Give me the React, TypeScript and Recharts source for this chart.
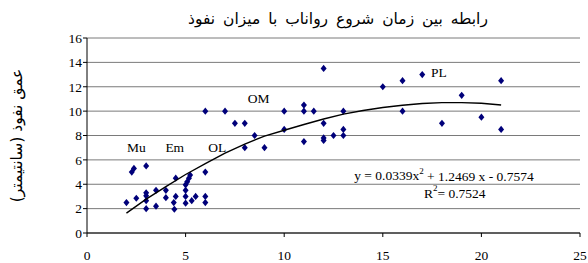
import { CartesianGrid, ComposedChart, ReferenceDot, Scatter, XAxis, YAxis } from "recharts";

const obsX = [
  2, 2.27, 2.38, 2.5, 3, 3, 3, 3, 3, 3.5, 3.5, 4, 4, 4.4, 4.43, 4.5, 4.5,
  5, 5, 5, 5, 5.08, 5.17, 5.23, 5.31, 5.51, 6, 6, 6, 6,
  7, 7.5, 8, 8, 8.5, 9, 10, 10, 11, 11, 11, 11.5, 12, 12, 12, 12, 12.5, 13, 13, 13,
  15, 16, 16, 17, 18, 19, 20, 21, 21,
];
const obsY = [
  2.5, 5, 5.3, 2.85, 5.5, 3.3, 3.05, 2.65, 2, 3.5, 2.2, 3.5, 2.9, 2.5, 1.95, 4.5, 3,
  2.45, 3, 3.5, 3.95, 4.2, 4.5, 4.75, 2.65, 3, 10, 5, 3, 2.5,
  10, 9, 9, 7, 8, 7, 10, 8.5, 10.5, 10, 7.5, 10, 13.5, 9, 7.8, 7.6, 8, 10, 8.5, 8,
  12, 12.5, 10, 13, 9, 11.3, 9.5, 12.5, 8.5,
];

// Polynomial trend line.
const trendX = [2, 3, 4, 5, 6, 7, 8, 9, 10, 11, 12, 13, 14, 15, 16, 17, 18, 19, 20, 21];
const trendY = [1.63, 2.78, 3.8, 4.8, 5.7, 6.55, 7.3, 7.95, 8.43, 8.9, 9.35, 9.75, 10.05, 10.3, 10.48, 10.62, 10.7, 10.7, 10.65, 10.5];

const xTicks = [0, 5, 10, 15, 20, 25];
const yTicks = [0, 2, 4, 6, 8, 10, 12, 14, 16];

const groupLabels = ["Mu", "Em", "OL", "OM", "PL"];
const groupLabelX = [2.5, 4.45, 6.6, 8.7, 17.85];
const groupLabelY = [7.05, 7.05, 7.05, 11, 13.15];

const title = "رابطه بین  زمان شروع رواناب با میزان نفوذ";
const yTitle = "عمق نفوذ (سانتیمتر)";

const points = obsX.map((x, i) => ({ x, y: obsY[i] }));
const trend = trendX.map((x, i) => ({ x, y: trendY[i] }));

const serif = "'Liberation Serif', 'Times New Roman', serif";
const persian = "'DejaVu Sans', sans-serif";

const Diamond = (props: any) => {
  const { cx, cy } = props;
  if (cx == null || cy == null) return null;
  return <polygon points={`${cx},${cy - 3.6} ${cx + 3},${cy} ${cx},${cy + 3.6} ${cx - 3},${cy}`} fill="#00007a" />;
};

const textShape = (text: string) => (props: any) => (
  <text x={props.cx} y={props.cy} textAnchor="middle" dominantBaseline="central" fontFamily={serif} fontSize={13.5} fill="#000">
    {text}
  </text>
);

const Equation = (props: any) => (
  <text x={props.cx} y={props.cy} textAnchor="middle" dominantBaseline="central" fontFamily={serif} fontSize={13.5} fill="#000">
    y = 0.0339x<tspan dy={-5} fontSize={9}>2</tspan>
    <tspan dy={5}> + 1.2469 x - 0.7574</tspan>
  </text>
);

const RSquared = (props: any) => (
  <text x={props.cx} y={props.cy} textAnchor="middle" dominantBaseline="central" fontFamily={serif} fontSize={13.5} fill="#000">
    R<tspan dy={-5} fontSize={9}>2</tspan>
    <tspan dy={5}>= 0.7524</tspan>
  </text>
);

export default function App() {
  return (
    <div style={{ position: "absolute", left: 0, top: 0, width: 588, height: 263, background: "#fff" }}>
      <svg width={588} height={263} style={{ position: "absolute", left: 0, top: 0, pointerEvents: "none" }}>
        <text x={338} y={19} textAnchor="middle" dominantBaseline="central" fontFamily={persian} fontSize={15.5} wordSpacing={3}>
          {title}
        </text>
      </svg>
      <div style={{ position: "absolute", left: 0, top: 0 }}>
        <ComposedChart width={588} height={263} margin={{ top: 38, right: 8, bottom: 0, left: 0 }}>
          <CartesianGrid vertical={false} stroke="#7a7a7a" strokeWidth={1} />
          <XAxis
            type="number"
            dataKey="x"
            domain={[0, 25]}
            ticks={xTicks}
            allowDataOverflow
            height={30}
            stroke="#000"
            tickSize={4}
            tickMargin={13}
            tick={{ fill: "#000", fontFamily: serif, fontSize: 13.5 }}
          />
          <YAxis
            type="number"
            dataKey="y"
            domain={[0, 16]}
            ticks={yTicks}
            width={87}
            stroke="#000"
            tickSize={4}
            tickMargin={1}
            tick={{ fill: "#000", fontFamily: serif, fontSize: 13.5 }}
            label={{
              value: yTitle,
              angle: -90,
              position: "insideLeft",
              offset: 16,
              style: { fontFamily: persian, fontSize: 15.5, fill: "#000", textAnchor: "middle" },
            }}
          />
          <Scatter data={points} shape={<Diamond />} isAnimationActive={false} />
          <Scatter data={trend} line={{ stroke: "#000", strokeWidth: 1.4 }} lineType="joint" shape={() => null} isAnimationActive={false} />
          {groupLabels.map((g, i) => (
            <ReferenceDot key={g} x={groupLabelX[i]} y={groupLabelY[i]} r={0} shape={textShape(g)} />
          ))}
          <ReferenceDot x={18.1} y={4.68} r={0} shape={Equation} />
          <ReferenceDot x={18.65} y={3.25} r={0} shape={RSquared} />
        </ComposedChart>
      </div>
    </div>
  );
}
